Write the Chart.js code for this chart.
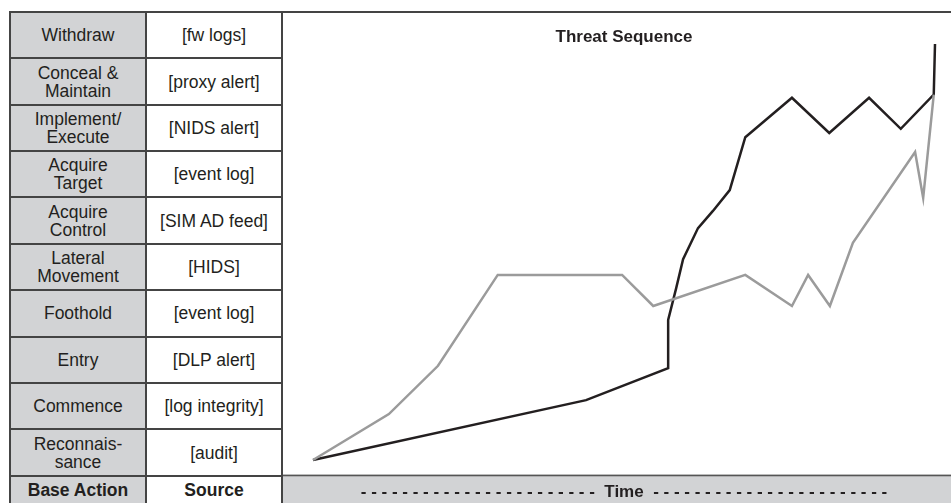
<!DOCTYPE html>
<html lang="en">
<head>
  <meta charset="UTF-8">
  <title>Threat Sequence</title>
  <script src="https://cdn.jsdelivr.net/npm/chart.js"></script>
  <style>
    html, body { margin: 0; padding: 0; background: #fff; overflow: hidden; }
    #page { position: relative; width: 951px; height: 503px; overflow: hidden; }
    #frame { position: absolute; left: 9px; top: 11px; width: 942px; height: 492px; background: #444; }
    .cell {
      position: absolute; display: flex; align-items: center; justify-content: center;
      text-align: center; white-space: pre-line; color: #231f20;
      font-family: "Liberation Sans", Arial, sans-serif;
      font-size: 17.5px; line-height: 18px;
    }
    .action { background: #d2d3d5; }
    .source { background: #fff; }
    .head { font-weight: bold; }
    #chartBox { position: absolute; left: 283px; top: 13px; width: 678px; height: 490px; background: #fff; }
  </style>
</head>
<body>
  <div id="page">
    <div id="frame"></div>
    <div id="chartBox"><canvas id="threatChart" width="678" height="490"></canvas></div>
  </div>

  <script>
    // table rows, top (Withdraw) to bottom (Reconnaissance)
    const baseActions = ['Withdraw', 'Conceal &\nMaintain', 'Implement/\nExecute', 'Acquire\nTarget', 'Acquire\nControl',
      'Lateral\nMovement', 'Foothold', 'Entry', 'Commence', 'Reconnais-\nsance'];
    const sources = ['[fw logs]', '[proxy alert]', '[NIDS alert]', '[event log]', '[SIM AD feed]',
      '[HIDS]', '[event log]', '[DLP alert]', '[log integrity]', '[audit]'];
    const headers = ['Base Action', 'Source'];

    // stage units: Reconnaissance = 1 ... Withdraw = 10, time 0..100
    const blackTime  = [0, 43.9, 57.1, 57.1, 58.4, 59.5, 61.9, 64.3, 67.0, 69.5, 77.0, 83.0, 89.4, 94.5, 99.8, 100];
    const blackStage = [0.84, 2.13, 2.82, 3.86, 4.55, 5.17, 5.84, 6.21, 6.66, 7.80, 8.65, 7.89, 8.65, 7.98, 8.72, 9.81];
    const grayTime   = [0, 12.2, 20.1, 29.7, 49.7, 54.7, 69.5, 77.0, 79.6, 83.1, 86.8, 96.8, 98.1, 99.8];
    const grayStage  = [0.84, 1.83, 2.87, 4.83, 4.83, 4.16, 4.83, 4.16, 4.83, 4.16, 5.52, 7.48, 6.49, 8.72];

    const chartTitle = 'Threat Sequence';
    const axisTitle = '- - - - - - - - - - - - - - - - - - - - - - -  Time  - - - - - - - - - - - - - - - - - - - - - - -';

    const fontFamily = '"Liberation Sans", Arial, sans-serif';

    // build the table on the left
    function buildTable() {
      const page = document.getElementById('page');
      const rowH = 46.37;
      const cols = [{ left: 11, width: 134, cls: 'action', items: baseActions },
                    { left: 147, width: 134, cls: 'source', items: sources }];
      cols.forEach((col, c) => {
        col.items.forEach((txt, i) => {
          const d = document.createElement('div');
          d.className = 'cell ' + col.cls;
          d.style.left = col.left + 'px';
          d.style.top = (13 + i * rowH) + 'px';
          d.style.width = col.width + 'px';
          d.style.height = (rowH - 2) + 'px';
          d.textContent = txt;
          page.appendChild(d);
        });
        const h = document.createElement('div');
        h.className = 'cell head ' + col.cls;
        h.style.left = col.left + 'px';
        h.style.top = (13 + 10 * rowH) + 'px';
        h.style.width = col.width + 'px';
        h.style.height = (503 - 13 - 10 * rowH) + 'px';
        h.textContent = headers[c];
        page.appendChild(h);
      });
    }

    // grey band under the plot for the time axis
    const timeBand = {
      id: 'timeBand',
      beforeDraw(chart) {
        const ctx = chart.ctx;
        const top = chart.scales.x.top;
        ctx.save();
        ctx.fillStyle = '#555';
        ctx.fillRect(0, top, chart.width, 2);
        ctx.fillStyle = '#d2d3d5';
        ctx.fillRect(0, top + 2, chart.width, chart.height - top - 2);
        ctx.restore();
      }
    };

    function toPoints(xs, ys) {
      return xs.map((x, i) => ({ x: x, y: ys[i] }));
    }

    function createChart() {
      const ctx = document.getElementById('threatChart').getContext('2d');
      new Chart(ctx, {
        type: 'line',
        data: {
          datasets: [
            {
              label: 'Detection',
              data: toPoints(grayTime, grayStage),
              borderColor: '#9b9b9b',
              borderWidth: 2.5,
              borderJoinStyle: 'miter',
              pointRadius: 0,
              tension: 0,
              clip: false
            },
            {
              label: 'Threat',
              data: toPoints(blackTime, blackStage),
              borderColor: '#231f20',
              borderWidth: 2.5,
              borderJoinStyle: 'miter',
              pointRadius: 0,
              tension: 0,
              clip: false
            }
          ]
        },
        options: {
          responsive: false,
          animation: false,
          layout: { padding: { left: 30, right: 26, top: 0, bottom: 0 } },
          plugins: {
            legend: { display: false },
            tooltip: { enabled: false },
            title: {
              display: true,
              text: chartTitle,
              color: '#231f20',
              font: { family: fontFamily, size: 17, weight: 'bold' },
              padding: { top: 14, bottom: 0 }
            }
          },
          scales: {
            x: {
              type: 'linear',
              min: 0,
              max: 100,
              grid: { display: false, drawTicks: false },
              border: { display: false },
              ticks: { display: false },
              title: {
                display: true,
                text: axisTitle,
                color: '#231f20',
                font: { family: fontFamily, size: 17, weight: 'bold' },
                padding: { top: 7.5, bottom: 0.5 }
              }
            },
            y: {
              type: 'linear',
              display: false,
              min: 0.524,
              max: 9.736
            }
          }
        },
        plugins: [timeBand]
      });
    }

    buildTable();
    createChart();
  </script>
</body>
</html>
